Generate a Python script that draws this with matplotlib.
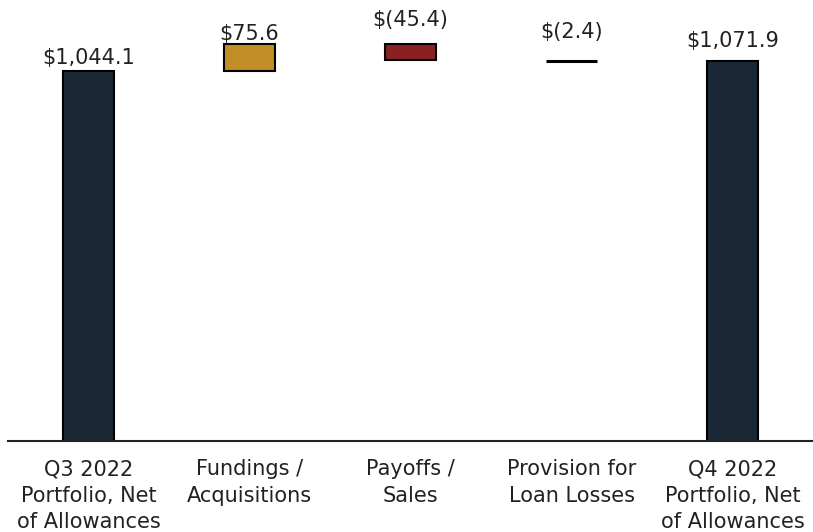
import matplotlib
matplotlib.use("Agg")
import matplotlib.pyplot as plt

categories = ["Q3 2022\nPortfolio, Net\nof Allowances", "Fundings /\nAcquisitions",
              "Payoffs /\nSales", "Provision for\nLoan Losses", "Q4 2022\nPortfolio, Net\nof Allowances"]
start_value = 1044.1
changes = [75.6, -45.4, -2.4]
end_value = 1071.9
value_labels = ["$1,044.1", "$75.6", "$(45.4)", "$(2.4)", "$1,071.9"]

colors = ["#1a2836", "#c28e28", "#8b2023", "#1a2836", "#1a2836"]
label_offsets = [2, 0, 10, 13, 7]  # points above bar tops

plt.rcParams['font.family'] = ['DejaVu Sans']

fig = plt.figure(figsize=(8.13, 5.32), dpi=100)
ax = fig.add_axes([8/813, 91/532, 805/813, 441/532])

bottoms = [0]
heights = [start_value]
running = start_value
for c in changes:
    if c >= 0:
        bottoms.append(running)
        heights.append(c)
    else:
        bottoms.append(running + c)
        heights.append(-c)
    running += c
bottoms.append(0)
heights.append(end_value)

x = list(range(len(categories)))
w = 0.32
for i in x:
    if i == 3:
        ax.plot([i - w/2, i + w/2], [bottoms[i] + heights[i]/2]*2, color="black", lw=2.2, solid_capstyle='butt')
    else:
        ax.bar(i, heights[i], bottom=bottoms[i], width=w, color=colors[i], edgecolor="black", linewidth=1.5)
    top = bottoms[i] + heights[i]
    ax.annotate(value_labels[i], (i, top), xytext=(0, label_offsets[i]), textcoords="offset points",
                ha="center", va="bottom", fontsize=15, color="#222222")

ax.set_xlim(-0.5, 4.5)
ax.set_ylim(0, 1244)
ax.set_xticks(x)
ax.set_xticklabels(categories, fontsize=15, color="#222222", linespacing=1.42)
ax.tick_params(axis='x', length=0, pad=13)
ax.set_yticks([])
for s in ["top", "right", "left"]:
    ax.spines[s].set_visible(False)
ax.spines["bottom"].set_linewidth(1.5)
ax.spines["bottom"].set_color("#222222")

fig.savefig("out.png", dpi=100)
